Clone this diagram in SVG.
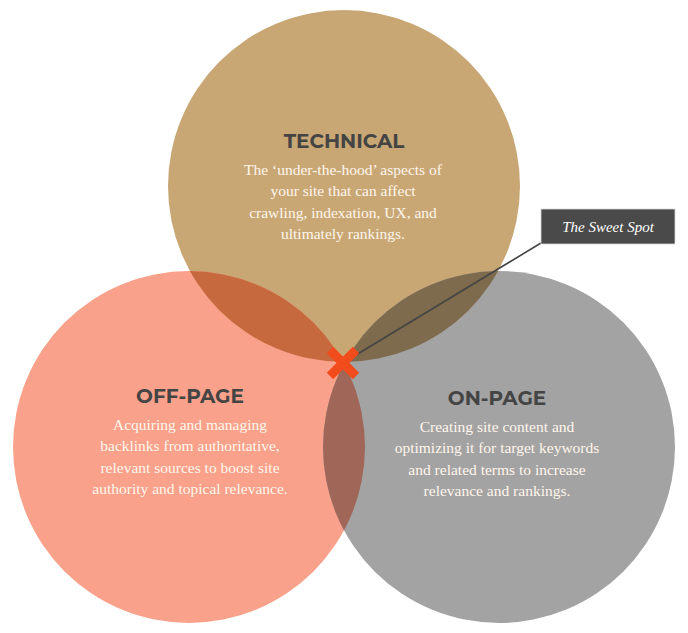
<svg xmlns="http://www.w3.org/2000/svg" width="688" height="633" viewBox="0 0 688 633">
  <style>
    .title { font-family: Montserrat, "Open Sans", "Liberation Sans", sans-serif; font-weight: 700; font-size: 20px; fill: #444444; text-anchor: middle; }
    .body { font-family: "Liberation Serif", "Times New Roman", serif; font-size: 15.5px; fill: #FFF6EC; text-anchor: middle; }
    .callout { font-family: "Liberation Serif", "Times New Roman", serif; font-style: italic; font-size: 15px; fill: #FFFFFF; text-anchor: middle; }
  </style>
  <defs>
    <clipPath id="clipLeft"><circle cx="189" cy="447" r="176"/></clipPath>
    <clipPath id="clipRight"><circle cx="499" cy="447" r="176"/></clipPath>
  </defs>
  <rect width="688" height="633" fill="#FFFFFF"/>

  <g id="technical">
    <circle cx="344" cy="186" r="176" fill="#C8A775"/>
  </g>
  <g id="off-page">
    <circle cx="189" cy="447" r="176" fill="#F9A18A"/>
  </g>
  <g id="on-page">
    <circle cx="499" cy="447" r="176" fill="#A3A3A3"/>
  </g>
  <g id="overlaps">
    <circle cx="344" cy="186" r="176" fill="#C7693F" clip-path="url(#clipLeft)"/>
    <circle cx="344" cy="186" r="176" fill="#7E6A4C" clip-path="url(#clipRight)"/>
    <circle cx="189" cy="447" r="176" fill="#A06658" clip-path="url(#clipRight)"/>
  </g>

  <g id="technical-text">
    <text class="title" x="344" y="148">TECHNICAL</text>
    <text class="body" x="343" y="175">The ‘under-the-hood’ aspects of</text>
    <text class="body" x="343" y="196">your site that can affect</text>
    <text class="body" x="343" y="218">crawling, indexation, UX, and</text>
    <text class="body" x="343" y="239">ultimately rankings.</text>
  </g>
  <g id="off-page-text">
    <text class="title" x="190" y="403">OFF-PAGE</text>
    <text class="body" x="190" y="430">Acquiring and managing</text>
    <text class="body" x="190" y="451">backlinks from authoritative,</text>
    <text class="body" x="190" y="473">relevant sources to boost site</text>
    <text class="body" x="190" y="494">authority and topical relevance.</text>
  </g>
  <g id="on-page-text">
    <text class="title" x="497" y="405">ON-PAGE</text>
    <text class="body" x="497" y="432">Creating site content and</text>
    <text class="body" x="497" y="453">optimizing it for target keywords</text>
    <text class="body" x="497" y="475">and related terms to increase</text>
    <text class="body" x="497" y="496">relevance and rankings.</text>
  </g>

  <g id="connectors">
    <line x1="541" y1="243" x2="356" y2="355" stroke="#444444" stroke-width="1.6"/>
  </g>

  <g id="sweet-spot-marker">
    <line x1="330" y1="350" x2="356" y2="376" stroke="#F24B1C" stroke-width="9"/>
    <line x1="356" y1="350" x2="330" y2="376" stroke="#F24B1C" stroke-width="9"/>
  </g>

  <g id="sweet-spot-label">
    <rect x="541" y="209" width="134" height="35" fill="#4A4A4A" stroke="#D8D8D8" stroke-width="0.8"/>
    <text class="callout" x="608" y="232">The Sweet Spot</text>
  </g>
</svg>
